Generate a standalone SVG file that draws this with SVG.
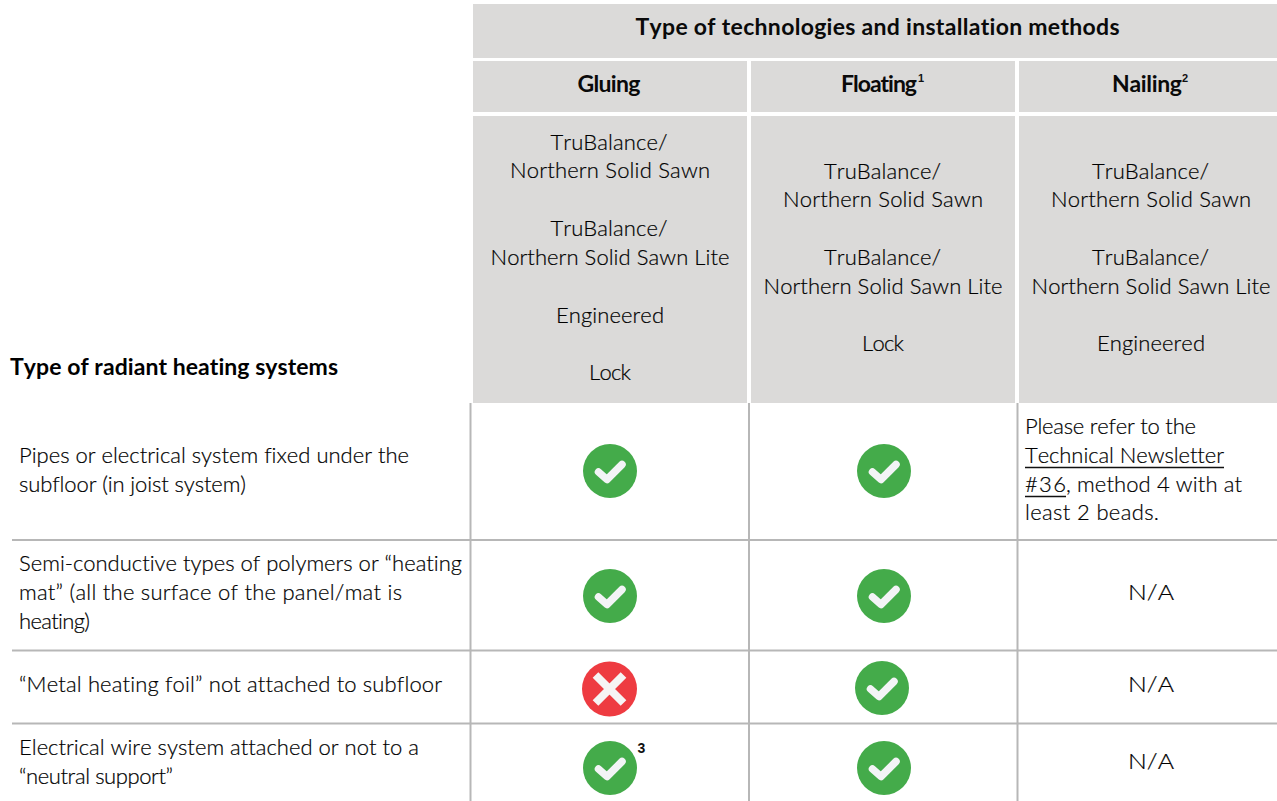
<svg xmlns="http://www.w3.org/2000/svg" xmlns:xlink="http://www.w3.org/1999/xlink" width="1277" height="801" viewBox="0 0 1277 801">
<style>
text{font-family:"Lato","Liberation Sans",sans-serif;fill:#000;font-variant-ligatures:none;font-kerning:none}
.b{font-size:23px;font-weight:700;fill:#0a0a0a;text-anchor:middle}
.t{font-size:22px;font-weight:300;stroke:#000;stroke-width:.2}
.m{text-anchor:middle}
.sup{font-family:"Liberation Sans",sans-serif;font-weight:700;fill:#111}
.cell{fill:#dbdad9}
.grid{stroke:#b7b7b7;stroke-width:2;fill:none}
.ok{fill:#44ab4a}
.no{fill:#ee3b41}
.mark{fill:none;stroke:#f3f4f6;stroke-linecap:round;stroke-linejoin:round;stroke-width:7.5}
.x{fill:none;stroke:#f6f4f4;stroke-width:8}
</style>
<defs>
<g id="check"><circle class="ok" r="27"/><path class="mark" d="M-11.500,1 L-3,8.500 L12,-6.500"/></g>
<g id="cross"><circle class="no" r="27.500"/><path class="x" d="M-14,-14 L14,14 M14,-14 L-14,14"/></g>
</defs>
<rect width="1277" height="801" fill="#fff"/>
<g id="connectors">
<path class="grid" d="M12,540H1277M12,650.500H1277M12,723.500H1277M470.500,403V801M749,403V801M1017.500,403V801"/>
</g>
<g id="header-main"><rect class="cell" x="473" y="4" width="804" height="54"/><text class="b" x="877.500" y="35" textLength="484">Type of technologies and installation methods</text></g>
<g id="header-gluing"><rect class="cell" x="473" y="61" width="274" height="51"/><text class="b" x="609" y="92" textLength="63">Gluing</text></g>
<g id="header-floating"><rect class="cell" x="751" y="61" width="264" height="51"/><text class="b" x="879" y="92" textLength="76">Floating</text><text class="sup" x="918" y="82" font-size="11">1</text></g>
<g id="header-nailing"><rect class="cell" x="1019" y="61" width="258" height="51"/><text class="b" x="1147" y="92" textLength="70">Nailing</text><text class="sup" x="1182" y="82" font-size="11">2</text></g>
<g id="products-gluing"><rect class="cell" x="473" y="116" width="274" height="287"/>
<text class="t m" x="609" y="150" textLength="117">TruBalance/</text>
<text class="t m" x="610" y="178" textLength="200">Northern Solid Sawn</text>
<text class="t m" x="609" y="236" textLength="117">TruBalance/</text>
<text class="t m" x="610" y="265" textLength="239">Northern Solid Sawn Lite</text>
<text class="t m" x="610" y="323" textLength="108">Engineered</text>
<text class="t m" x="610" y="380" textLength="42">Lock</text></g>
<g id="products-floating"><rect class="cell" x="751" y="116" width="264" height="287"/>
<text class="t m" x="882.500" y="179" textLength="117">TruBalance/</text>
<text class="t m" x="883" y="207" textLength="200">Northern Solid Sawn</text>
<text class="t m" x="882.500" y="265" textLength="117">TruBalance/</text>
<text class="t m" x="883" y="294" textLength="239">Northern Solid Sawn Lite</text>
<text class="t m" x="883" y="351" textLength="42">Lock</text></g>
<g id="products-nailing"><rect class="cell" x="1019" y="116" width="258" height="287"/>
<text class="t m" x="1150.500" y="179" textLength="117">TruBalance/</text>
<text class="t m" x="1151" y="207" textLength="200">Northern Solid Sawn</text>
<text class="t m" x="1150.500" y="265" textLength="117">TruBalance/</text>
<text class="t m" x="1151" y="294" textLength="239">Northern Solid Sawn Lite</text>
<text class="t m" x="1151" y="351" textLength="108">Engineered</text></g>
<g id="label-systems"><text x="10" y="375" font-size="23" font-weight="700" fill="#0a0a0a" textLength="328">Type of radiant heating systems</text></g>
<g id="row-1"><text class="t" x="19" y="463" textLength="390">Pipes or electrical system fixed under the</text>
<text class="t" x="19" y="492" textLength="227">subfloor (in joist system)</text>
<use xlink:href="#check" href="#check" x="610" y="471"/><use xlink:href="#check" href="#check" x="884" y="471"/>
<text class="t" x="1025" y="434" textLength="171">Please refer to the</text>
<text class="t" x="1025" y="463" textLength="199">Technical Newsletter</text>
<text class="t" x="1025" y="492" textLength="41">#36</text><text class="t" x="1066" y="492" textLength="176">, method 4 with at</text>
<text class="t" x="1025" y="520" textLength="134">least 2 beads.</text>
<path d="M1025,467.500H1224M1025,496.500H1066" stroke="#111" stroke-width="1.500" fill="none"/></g>
<g id="row-2"><text class="t" x="19" y="571" textLength="443">Semi-conductive types of polymers or “heating</text>
<text class="t" x="19" y="600" textLength="383">mat” (all the surface of the panel/mat is</text>
<text class="t" x="19" y="629" textLength="71">heating)</text>
<use xlink:href="#check" href="#check" x="610" y="596"/><use xlink:href="#check" href="#check" x="884" y="596"/>
<text class="t m" x="1151" y="600" textLength="46" lengthAdjust="spacingAndGlyphs">N/A</text></g>
<g id="row-3"><text class="t" x="19" y="692" textLength="423">“Metal heating foil” not attached to subfloor</text>
<use xlink:href="#cross" href="#cross" x="609.500" y="689"/><use xlink:href="#check" href="#check" x="882" y="688"/>
<text class="t m" x="1151" y="692" textLength="46" lengthAdjust="spacingAndGlyphs">N/A</text></g>
<g id="row-4"><text class="t" x="19" y="755" textLength="400">Electrical wire system attached or not to a</text>
<text class="t" x="19" y="784" textLength="154">“neutral support”</text>
<use xlink:href="#check" href="#check" x="610" y="768"/><text class="sup" x="637.500" y="753" font-size="14">3</text><use xlink:href="#check" href="#check" x="884" y="768"/>
<text class="t m" x="1151" y="769" textLength="46" lengthAdjust="spacingAndGlyphs">N/A</text></g>
</svg>
